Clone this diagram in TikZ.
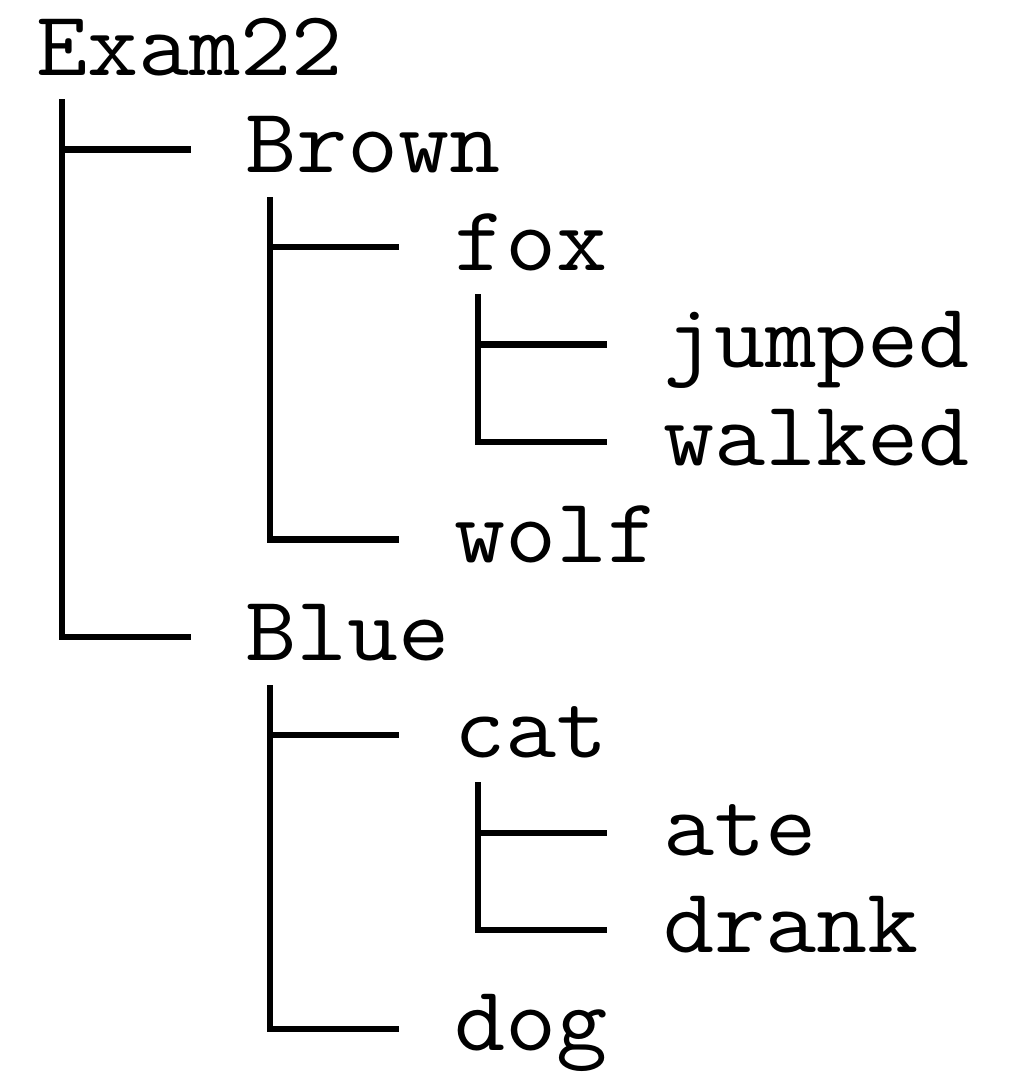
\documentclass[tikz,border=0pt]{standalone}
\usepackage{fontspec}
\usepackage{graphicx}
\newcommand{\treelabel}[1]{\scalebox{1.08}[1]{#1}}
\begin{document}
\begin{tikzpicture}[x=1pt,y=-1pt,
  lbl/.style={anchor=base west, inner sep=0pt, outer sep=0pt,
    font=\ttfamily\fontsize{92}{92}\selectfont},
  branch/.style={draw=black, line width=6.5pt, line cap=butt, line join=miter}]
\fill[white] (0,0) rectangle (1010,1082);
\useasboundingbox (0,0) rectangle (1010,1082);
% labels
\node[lbl] (exam)   at (36,75)     {\treelabel{Exam22}};
\node[lbl] (brown)  at (245,172.5) {\treelabel{Brown}};
\node[lbl] (fox)    at (454,270)   {\treelabel{fox}};
\node[lbl] (jumped) at (663,367.5) {\treelabel{jumped}};
\node[lbl] (walked) at (663,465)   {\treelabel{walked}};
\node[lbl] (wolf)   at (454,562.5) {\treelabel{wolf}};
\node[lbl] (blue)   at (245,660)   {\treelabel{Blue}};
\node[lbl] (cat)    at (454,757.5) {\treelabel{cat}};
\node[lbl] (ate)    at (663,855)   {\treelabel{ate}};
\node[lbl] (drank)  at (663,952.5) {\treelabel{drank}};
\node[lbl] (dog)    at (454,1050)  {\treelabel{dog}};
% stem tops
\coordinate (exam-stem)  at (62,99);
\coordinate (brown-stem) at (270,197);
\coordinate (fox-stem)   at (478,294);
\coordinate (blue-stem)  at (270,685);
\coordinate (cat-stem)   at (478,782);
% branch ends next to each label
\coordinate (brown-in)  at (191,149.5);
\coordinate (fox-in)    at (399,247);
\coordinate (jumped-in) at (607,344.5);
\coordinate (walked-in) at (607,442);
\coordinate (wolf-in)   at (399,539.5);
\coordinate (blue-in)   at (191,637);
\coordinate (cat-in)    at (399,735);
\coordinate (ate-in)    at (607,833);
\coordinate (drank-in)  at (607,930);
\coordinate (dog-in)    at (399,1029);
% connectors
\draw[branch] (exam-stem)  |- (brown-in);
\draw[branch] (exam-stem)  |- (blue-in);
\draw[branch] (brown-stem) |- (fox-in);
\draw[branch] (brown-stem) |- (wolf-in);
\draw[branch] (fox-stem)   |- (jumped-in);
\draw[branch] (fox-stem)   |- (walked-in);
\draw[branch] (blue-stem)  |- (cat-in);
\draw[branch] (blue-stem)  |- (dog-in);
\draw[branch] (cat-stem)   |- (ate-in);
\draw[branch] (cat-stem)   |- (drank-in);
\end{tikzpicture}
\end{document}
